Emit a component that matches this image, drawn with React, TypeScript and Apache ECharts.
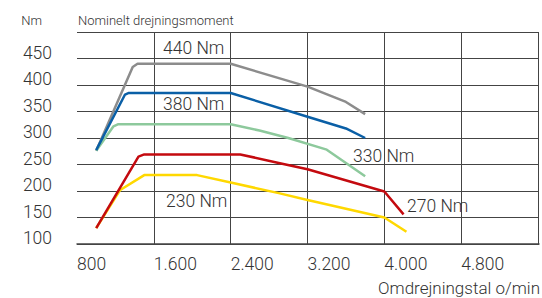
import React, { useEffect, useRef } from "react";
import * as echarts from "echarts";

const xTicks = [800, 1600, 2400, 3200, 4000, 4800];
const yTicks = [100, 150, 200, 250, 300, 350, 400, 450];

const gray440: [number, number][] = [[1000, 276], [1380, 434], [1430, 440], [2400, 440], [3200, 397], [3600, 368], [3800, 345]];
const green330: [number, number][] = [[1000, 276], [1180, 322], [1230, 326], [2400, 326], [2700, 314], [3000, 300], [3400, 278], [3800, 228]];
const blue380: [number, number][] = [[1000, 277], [1300, 382], [1340, 385], [2400, 385], [3200, 340], [3600, 318], [3800, 300]];
const yellow230: [number, number][] = [[1000, 130], [1250, 202], [1500, 230], [2050, 230], [2400, 216], [2900, 196], [3200, 183], [4000, 150], [4230, 123]];
const red270: [number, number][] = [[1000, 130], [1440, 265], [1500, 269], [2500, 269], [2900, 253], [3200, 241], [4000, 199], [4200, 156]];

const seriesLabels = ["440 Nm", "380 Nm", "330 Nm", "270 Nm", "230 Nm"];

const FONT = "Roboto";
const W = 300;
const TXT = "#333";

export default function App() {
  const ref = useRef<HTMLDivElement>(null);
  useEffect(() => {
    document.body.style.margin = "0";
    const chart = echarts.init(ref.current!, null, { renderer: "svg" });
    const line = (data: [number, number][], color: string) => ({
      type: "line",
      data,
      showSymbol: false,
      symbol: "none",
      lineStyle: { color, width: 2.5, join: "round" },
      z: 3,
    });
    const lbl = (text: string, x: number, y: number) => ({
      type: "text",
      x,
      y,
      z: 10,
      style: { text, fill: TXT, font: `${W} 17.5px "${FONT}"`, verticalAlign: "middle", align: "left" },
    });
    chart.setOption({
      animation: false,
      textStyle: { fontFamily: FONT, fontWeight: W },
      grid: { left: 77, right: 2, top: 32, bottom: 54 },
      xAxis: {
        type: "value",
        min: 800,
        max: 5610,
        interval: 800,
        axisLine: { show: true, lineStyle: { color: "#444", width: 1.5 } },
        axisTick: { show: false },
        axisLabel: {
          color: TXT,
          fontSize: 17.5,
          fontFamily: FONT,
          fontWeight: W,
          align: "left",
          margin: 11,
          formatter: (v: number) => (xTicks.includes(v) ? v.toLocaleString("de-DE") : ""),
        },
        splitLine: { show: true, showMinLine: false, showMaxLine: false, lineStyle: { color: "#444", width: 1 } },
      },
      yAxis: {
        type: "value",
        min: 100,
        max: 500,
        interval: 50,
        name: "Nm",
        nameLocation: "end",
        nameGap: 12,
        nameTextStyle: { color: TXT, fontSize: 13, fontFamily: FONT, fontWeight: W, align: "right", verticalAlign: "middle", padding: [0, 35, 0, 0] },
        axisLine: { show: false },
        axisTick: { show: false },
        axisLabel: {
          color: TXT,
          fontSize: 17.5,
          fontFamily: FONT,
          fontWeight: W,
          margin: 25,
          verticalAlign: "bottom",
          lineHeight: 12,
          formatter: (v: number) => (yTicks.includes(v) ? String(v) : ""),
        },
        splitLine: { show: true, lineStyle: { color: "#444", width: 1 } },
      },
      series: [
        line(gray440, "#8c8c8c"),
        line(green330, "#8dc99c"),
        line(blue380, "#0a5fa6"),
        line(yellow230, "#ffd800"),
        line(red270, "#c40a0f"),
      ],
      graphic: [
        { type: "text", x: 78, y: 20, style: { text: "Nominelt drejningsmoment", fill: TXT, font: `${W} 13px "${FONT}"`, verticalAlign: "middle", align: "left" } },
        { type: "text", x: 540, y: 288, style: { text: "Omdrejningstal o/min", fill: TXT, font: `${W} 17px "${FONT}"`, verticalAlign: "middle", align: "right" } },
        lbl(seriesLabels[0], 163, 48),
        lbl(seriesLabels[1], 163, 104),
        lbl(seriesLabels[2], 353, 156),
        lbl(seriesLabels[3], 407, 206),
        lbl(seriesLabels[4], 166, 201),
      ],
    });
    return () => chart.dispose();
  }, []);
  return <div ref={ref} style={{ width: 542, height: 298 }} />;
}
